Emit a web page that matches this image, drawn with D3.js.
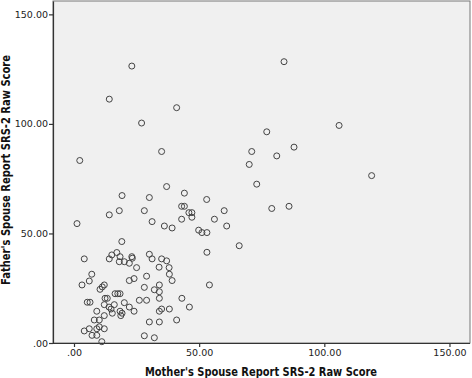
<!DOCTYPE html>
<html>
<head>
<meta charset="utf-8">
<script src="https://cdn.jsdelivr.net/npm/d3@7"></script>
<style>
  body { margin: 0; background: #fff; }
  svg { display: block; }
</style>
</head>
<body>
<svg id="chart"></svg>
<script>
// mother's spouse report (x) / father's spouse report (y)
const motherScores = [
  19.1, 4.1, 15.1, 14.1, 17.1, 18.4, 18.1, 20.1, 23.1, 23.3, 22.1, 30.1, 31.2, 35.0, 37.0, 34.0,
  38.0, 25.0, 7.1, 6.1, 3.2, 10.4, 11.3, 12.1, 22.1, 24.0, 29.0, 38.1, 39.2, 34.1, 28.1, 32.1,
  34.1, 16.4, 17.5, 18.4, 12.4, 13.3, 34.1, 5.3, 6.4, 43.1, 46.1, 26.1, 29.0, 20.1, 12.1, 16.1,
  14.0, 14.8, 22.1, 24.0, 9.1, 15.3, 18.4, 19.2, 18.7, 12.1, 34.1, 35.0, 38.1, 41.0, 30.1, 34.1,
  8.1, 10.1, 9.1, 10.1, 12.1, 6.1, 4.1, 7.2, 9.1, 11.1, 28.1, 32.1,
  2.3, 35.0, 37.0, 44.1, 19.2, 30.1, 43.0, 44.1, 45.9, 47.1, 47.1, 18.1, 14.1, 28.1, 31.2, 43.0,
  36.1, 39.2, 49.8, 1.2,
  71.0, 81.0, 87.9, 70.0, 73.0, 53.0, 79.0, 85.9, 60.0, 56.1, 61.0, 51.1, 53.1, 66.0, 53.1, 54.1,
  23.1, 14.1, 41.0, 27.0, 83.9, 105.9, 77.0, 118.9
];
const fatherScores = [
  46.3, 38.4, 40.2, 38.4, 41.3, 39.4, 37.1, 37.1, 39.4, 38.7, 36.4, 40.5, 38.4, 38.4, 37.5, 34.6,
  34.4, 34.4, 31.4, 28.3, 26.5, 24.5, 25.6, 26.5, 28.5, 29.4, 30.5, 31.4, 28.5, 26.5, 25.4, 24.3,
  23.4, 22.5, 22.5, 22.5, 20.4, 20.4, 20.4, 18.6, 18.6, 20.4, 16.4, 19.5, 19.5, 18.4, 17.5, 17.5,
  16.4, 15.5, 16.4, 14.5, 14.5, 13.6, 14.5, 13.6, 12.5, 12.5, 14.5, 15.5, 15.5, 10.5, 9.6, 9.6,
  10.5, 10.5, 6.5, 7.4, 6.5, 6.5, 5.5, 3.5, 3.5, 0.6, 3.3, 2.4,
  83.3, 87.4, 71.4, 68.4, 67.3, 66.4, 62.4, 62.4, 59.5, 59.5, 57.4, 60.4, 58.5, 60.4, 55.4, 56.5,
  53.4, 52.5, 51.5, 54.5,
  87.4, 85.4, 89.4, 81.5, 72.5, 65.5, 61.4, 62.4, 60.4, 56.5, 53.4, 50.4, 50.4, 44.4, 41.4, 26.5,
  126.4, 111.3, 107.4, 100.4, 128.4, 99.3, 96.4, 76.4
];
const tickValues = [0, 50, 100, 150];
const xTitle = "Mother's Spouse Report SRS-2 Raw Score";
const yTitle = "Father's Spouse Report SRS-2 Raw Score";

const width = 472, height = 378;
const plot = {left: 53, right: 470, top: 1, bottom: 343};

const svg = d3.select("#chart")
  .attr("width", width)
  .attr("height", height);

const x = d3.scaleLinear()
  .domain([-8.39, 158.2])
  .range([plot.left, plot.right]);

const y = d3.scaleLinear()
  .domain([0, 156.1])
  .range([plot.bottom, plot.top]);

const fmt = v => d3.format(".2f")(v).replace(/^0\./, ".");

// plot background
svg.append("rect")
  .attr("x", plot.left)
  .attr("y", plot.top)
  .attr("width", plot.right - plot.left)
  .attr("height", plot.bottom - plot.top)
  .attr("fill", "#f0f0f0")
  .attr("stroke", "#777")
  .attr("stroke-width", 1);

const xAxis = d3.axisBottom(x)
  .tickValues(tickValues)
  .tickFormat(fmt)
  .tickSizeInner(4)
  .tickSizeOuter(0)
  .tickPadding(2);

const yAxis = d3.axisLeft(y)
  .tickValues(tickValues)
  .tickFormat(fmt)
  .tickSizeInner(4)
  .tickSizeOuter(0)
  .tickPadding(1);

const gx = svg.append("g")
  .attr("transform", "translate(0," + plot.bottom + ")")
  .call(xAxis);

const gy = svg.append("g")
  .attr("transform", "translate(" + plot.left + ",0)")
  .call(yAxis);

[gx, gy].forEach(g => {
  g.select(".domain").attr("stroke", "#333").attr("stroke-width", 1.2);
  g.selectAll(".tick line").attr("stroke", "#333").attr("stroke-width", 1.2);
  g.selectAll(".tick text")
    .attr("fill", "#222")
    .style("font-family", "'DejaVu Sans', sans-serif")
    .style("font-size", "9.5px");
});
// the x axis line runs a bit past the frame at the bottom-left corner
gx.select(".domain").attr("d", "M" + (plot.left - 4) + ",0.5H" + plot.right);

// points
svg.append("g")
  .selectAll("circle")
  .data(motherScores.map((m, i) => ({m: m, f: fatherScores[i]})))
  .enter()
  .append("circle")
  .attr("cx", d => x(d.m))
  .attr("cy", d => y(d.f))
  .attr("r", 3)
  .attr("fill", "none")
  .attr("stroke", "#444")
  .attr("stroke-width", 1);

// axis titles
svg.append("text")
  .attr("x", 261)
  .attr("y", 376)
  .attr("text-anchor", "middle")
  .attr("textLength", 232)
  .attr("lengthAdjust", "spacingAndGlyphs")
  .style("font-family", "'DejaVu Sans', sans-serif")
  .style("font-weight", "bold")
  .style("font-size", "12px")
  .attr("fill", "#111")
  .text(xTitle);

svg.append("text")
  .attr("transform", "rotate(-90)")
  .attr("x", -170)
  .attr("y", 10)
  .attr("text-anchor", "middle")
  .attr("textLength", 230)
  .attr("lengthAdjust", "spacingAndGlyphs")
  .style("font-family", "'DejaVu Sans', sans-serif")
  .style("font-weight", "bold")
  .style("font-size", "12px")
  .attr("fill", "#111")
  .text(yTitle);
</script>
</body>
</html>
